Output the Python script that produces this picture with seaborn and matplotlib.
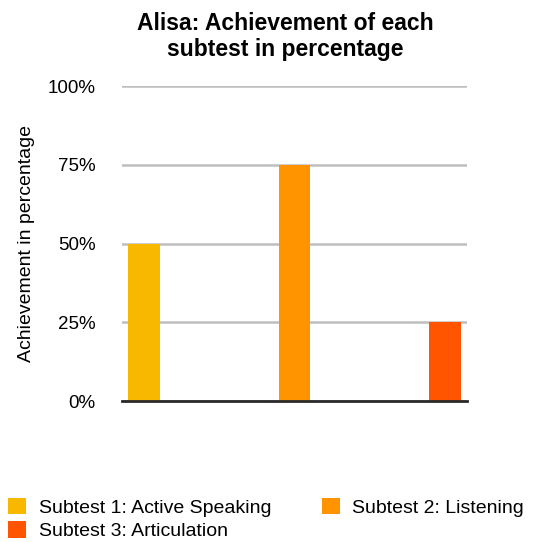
import numpy as np
import pandas as pd
import matplotlib
matplotlib.use('Agg')
import matplotlib.pyplot as plt
import seaborn as sns
from matplotlib.patches import Patch

subtests = ["Subtest 1: Active Speaking", "Subtest 2: Listening", "Subtest 3: Articulation"]
achievement = [0.50, 0.75, 0.25]
colors = ["#F9B800", "#FF9400", "#FF5500"]
yticks = [0, 0.25, 0.5, 0.75, 1.0]
ytick_labels = ["0%", "25%", "50%", "75%", "100%"]

sns.set_style("white")
plt.rcParams['font.family'] = ['Liberation Sans', 'DejaVu Sans']
plt.rcParams['text.color'] = 'black'

df = pd.DataFrame({"Subtest": subtests, "Achievement": achievement})

fig = plt.figure(figsize=(5.39, 5.42), dpi=100)
ax = fig.add_axes([0.2263, 0.2601, 0.6401, 0.5812])

sns.barplot(data=df, x="Subtest", y="Achievement", hue="Subtest",
            palette=colors, saturation=1, width=0.21, linewidth=0,
            legend=False, ax=ax, zorder=3)

ax.set_xlim(-0.146, 2.146)
ax.set_ylim(0, 1.0)
ax.set_yticks(yticks)
ax.set_yticklabels(ytick_labels, fontsize=13.5, color="black")
ax.set_xticks([])
ax.set_xlabel("")
ax.set_ylabel("Achievement in percentage", fontsize=14, color="black", labelpad=9)
ax.tick_params(axis='y', length=0, pad=19)
ax.yaxis.grid(True, color="#BEBEBE", linewidth=1.8, zorder=0)
for s in ["top", "right", "left"]:
    ax.spines[s].set_visible(False)
ax.spines["bottom"].set_color("#2A2A2A")
ax.spines["bottom"].set_linewidth(2)
ax.spines["bottom"].set_zorder(4)

fig.suptitle("Alisa: Achievement of each\nsubtest in percentage", x=0.529, y=0.977,
             fontsize=16.5, fontweight="bold", linespacing=1.15, color="black")

handles = [Patch(facecolor=c, edgecolor="none") for c in colors]
order = [0, 2, 1]
fig.legend([handles[i] for i in order], [subtests[i] for i in order],
           loc="lower left", bbox_to_anchor=(8 / 539, 2 / 542), ncol=2, frameon=False,
           fontsize=14, handlelength=0.95, handleheight=0.95, handletextpad=0.62,
           columnspacing=2.6, labelspacing=0.22, borderpad=0, borderaxespad=0)

fig.savefig("out.png", dpi=100)
